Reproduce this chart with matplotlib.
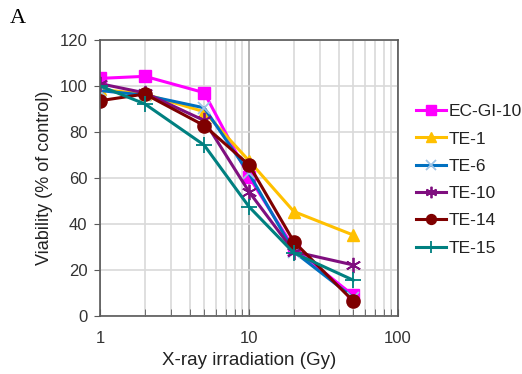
import matplotlib
matplotlib.use("Agg")
import matplotlib.pyplot as plt
from matplotlib.ticker import LogLocator, NullFormatter, FixedLocator

plt.rcParams['font.family'] = ['Liberation Sans', 'DejaVu Sans']

# dose (Gy)
doses = [1, 2, 5, 10, 20, 50]

# viability (% of control) per cell line
ec_gi_10 = [103.3, 104.2, 97.1, 60.5, 29.5, 9.0]
te_1 = [98.5, 96.5, 88.8, 67.5, 45.4, 35.2]
te_6 = [98.0, 96.0, 90.5, 62.0, 28.0, 8.0]
te_10 = [101.0, 97.0, 85.0, 54.0, 28.0, 22.2]
te_14 = [93.6, 96.5, 82.8, 65.7, 32.3, 6.5]
te_15 = [100.0, 92.2, 74.3, 47.5, 27.4, 15.6]

names = ["EC-GI-10", "TE-1", "TE-6", "TE-10", "TE-14", "TE-15"]
series = [ec_gi_10, te_1, te_6, te_10, te_14, te_15]
colors = ["#FF00FF", "#FFC000", "#0070C0", "#7F0F7F", "#7F0000", "#008080"]
markers = ["s", "^", "x", (6, 2, 0), "o", "+"]
msizes = [9, 9, 9, 11, 9.5, 11]

fig = plt.figure(figsize=(5.22, 3.74), dpi=100)
ax = fig.add_axes([0.1916, 0.1551, 0.5709, 0.7380])

for name, vals, c, m, ms in zip(names, series, colors, markers, msizes):
    if m in ("s", "^", "o"):
        ax.plot(doses, vals, color=c, lw=2.2, marker=m, ms=ms, mec=c,
                label=name)
    else:
        ax.plot(doses, vals, color=c, lw=2.2, marker=m, ms=ms, mew=1.3,
                mec=c if m != "x" else "#9DC3E6", label=name)

ax.set_xscale("log")
ax.set_xlim(1, 100)
ax.set_ylim(0, 120)
ax.set_yticks([0, 20, 40, 60, 80, 100, 120])
ax.xaxis.set_major_locator(FixedLocator([1, 10, 100]))
ax.set_xticklabels(["1", "10", "100"])
ax.xaxis.set_minor_locator(LogLocator(base=10, subs=range(2, 10)))
ax.xaxis.set_minor_formatter(NullFormatter())

ax.grid(True, which="major", axis="y", color="#D9D9D9", lw=1.2)
ax.grid(True, which="minor", axis="x", color="#D9D9D9", lw=1.2)
ax.grid(True, which="major", axis="x", color="#A6A6A6", lw=1.2)
ax.set_axisbelow(True)

for s in ax.spines.values():
    s.set_color("#595959")
    s.set_linewidth(1.2)

ax.tick_params(axis="x", which="both", direction="in", length=5,
               color="#595959", labelsize=12, pad=11, labelcolor="#333333")
ax.tick_params(axis="y", which="major", direction="out", length=4,
               color="#595959", labelsize=12, pad=5, labelcolor="#333333")

ax.set_xlabel("X-ray irradiation (Gy)", fontsize=13.5, color="#222222",
              labelpad=4)
ax.set_ylabel("Viability (% of control)", fontsize=13, color="#222222",
              labelpad=5)

leg = ax.legend(loc="upper left", bbox_to_anchor=(1.037, 0.793),
                frameon=False, fontsize=12.5, handlelength=1.75,
                handletextpad=0.12, labelspacing=0.7, borderaxespad=0,
                markerscale=0.75)
for t in leg.get_texts():
    t.set_color("#222222")

fig.text(0.018, 0.975, "A", fontsize=16, family="Liberation Serif",
         va="top", ha="left")

fig.savefig("out.png", dpi=100)
